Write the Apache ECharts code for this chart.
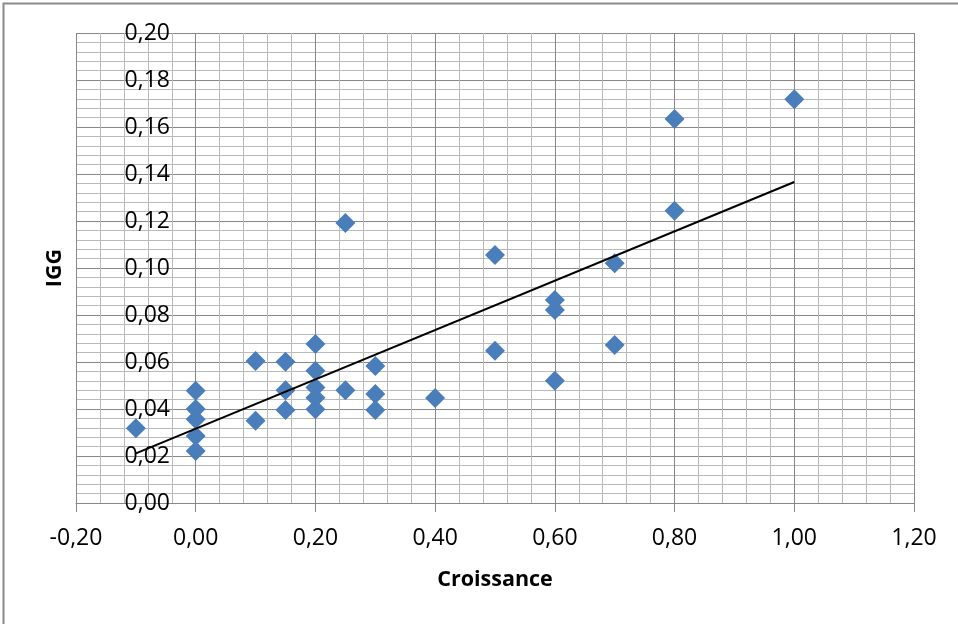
<!DOCTYPE html>
<html>
<head>
<meta charset="utf-8">
<script src="https://cdn.jsdelivr.net/npm/echarts@6/dist/echarts.min.js"></script>
<style>
  html, body { margin: 0; padding: 0; background: #ffffff; }
  #chart { width: 958px; height: 624px; }
</style>
</head>
<body>
<div id="chart"></div>
<script>
// Data
const croissance = [-0.10, 0.00, 0.00, 0.00, 0.00, 0.00, 0.10, 0.10, 0.15, 0.15, 0.15,
  0.20, 0.20, 0.20, 0.20, 0.20, 0.25, 0.25, 0.30, 0.30, 0.30, 0.40, 0.50, 0.50,
  0.60, 0.60, 0.60, 0.70, 0.70, 0.80, 0.80, 1.00];
const igg = [0.0318, 0.0478, 0.0400, 0.0356, 0.0285, 0.0221, 0.0604, 0.0350, 0.0601, 0.0480, 0.0396,
  0.0677, 0.0563, 0.0492, 0.0448, 0.0399, 0.1191, 0.0480, 0.0583, 0.0464, 0.0396, 0.0447, 0.1055, 0.0648,
  0.0864, 0.0821, 0.0520, 0.1020, 0.0672, 0.1634, 0.1244, 0.1718];
// Linear trendline endpoints
const trendX = [-0.10, 1.00];
const trendY = [0.0211, 0.1366];

const xTitle = 'Croissance';
const yTitle = 'IGG';

const fmt = v => {
  const r = Math.round(v * 100) / 100;
  return (Math.abs(r) < 1e-9 ? 0 : r).toFixed(2).replace('.', ',');
};

const FONT = 'Open Sans';
const majorColor = '#878787';
const minorColor = '#bababa';

const chart = echarts.init(document.getElementById('chart'), null, { renderer: 'canvas' });
chart.setOption({
  backgroundColor: '#ffffff',
  animation: false,
  graphic: [{
    type: 'rect',
    shape: { x: 3.5, y: 3.5, width: 1200, height: 1200 },
    style: { fill: 'none', stroke: '#8a8a8a', lineWidth: 2 },
    silent: true, z: -10
  }],
  grid: { left: 76, right: 44, top: 33, bottom: 121, containLabel: false, outerBoundsMode: 'none' },
  xAxis: {
    type: 'value', min: -0.2, max: 1.2, interval: 0.2,
    name: xTitle, nameLocation: 'middle', nameGap: 66,
    nameTextStyle: { fontFamily: FONT, fontWeight: 'bold', fontSize: 21.5, color: '#000' },
    axisLine: { show: true, onZero: false, lineStyle: { color: majorColor, width: 1 } },
    axisTick: { show: true, inside: false, length: 9, lineStyle: { color: majorColor } },
    axisLabel: { formatter: fmt, fontFamily: FONT, fontSize: 23, color: '#000', margin: 24 },
    splitLine: { show: true, lineStyle: { color: majorColor, width: 1 } },
    minorTick: { show: false, splitNumber: 5 },
    minorSplitLine: { show: true, lineStyle: { color: minorColor, width: 1 } }
  },
  yAxis: {
    type: 'value', min: 0, max: 0.2, interval: 0.02,
    name: yTitle, nameLocation: 'middle', nameGap: 10, nameRotate: 90,
    nameTextStyle: { fontFamily: FONT, fontWeight: 'bold', fontSize: 21.5, color: '#000' },
    axisLine: { show: false, onZero: false },
    axisTick: { show: false },
    axisLabel: { formatter: fmt, fontFamily: FONT, fontSize: 23, color: '#000', margin: -94 },
    splitLine: { show: true, lineStyle: { color: majorColor, width: 1 } },
    minorTick: { show: false, splitNumber: 5 },
    minorSplitLine: { show: true, lineStyle: { color: minorColor, width: 1 } }
  },
  series: [
    {
      type: 'scatter',
      symbol: 'diamond',
      symbolSize: 20,
      itemStyle: { color: '#4a7ebb', opacity: 1 },
      data: croissance.map((x, i) => [x, igg[i]]),
      z: 2
    },
    {
      type: 'line',
      showSymbol: false,
      symbol: 'none',
      lineStyle: { color: '#000000', width: 2 },
      data: trendX.map((x, i) => [x, trendY[i]]),
      z: 3
    }
  ]
});
</script>
</body>
</html>
